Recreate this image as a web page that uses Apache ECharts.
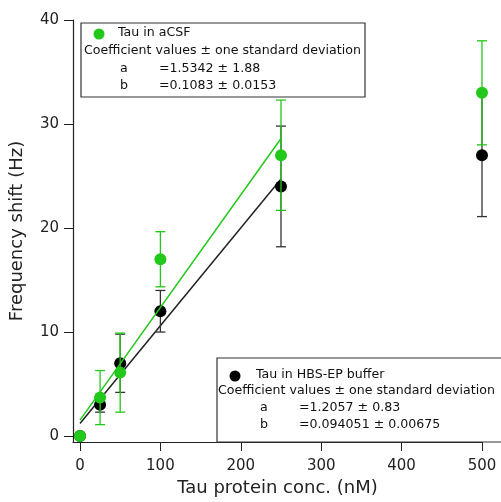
<!DOCTYPE html>
<html><head><meta charset="utf-8">
<script src="https://cdn.jsdelivr.net/npm/echarts@6/dist/echarts.min.js"></script>
<style>html,body{margin:0;padding:0;background:#fff}#c{width:501px;height:502px}</style>
</head><body><div id="c"></div>
<script>
// Data
const concX = [0, 25, 50, 100, 250, 500];
const acsfY = [0, 3.7, 6.1, 17.0, 27.0, 33.0];
const acsfErr = [0, 2.6, 3.8, 2.65, 5.3, 5.0];
const hbsY = [0, 3.0, 7.0, 12.0, 24.0, 27.0];
const hbsErr = [0, 0.7, 2.8, 2.0, 5.8, 5.9];
const fitX = [0, 250];
const acsfFit = [1.53, 28.61];
const hbsFit = [1.21, 24.72];
const xTicks = [0, 100, 200, 300, 400, 500];
const yTicks = [0, 10, 20, 30, 40];

const GREEN = '#22c81a';
const BLACK = '#000000';
const FONT = 'DejaVu Sans';

function pts(xs, ys) { return xs.map((x, i) => [x, ys[i]]); }
function errs(xs, ys, es) { return xs.map((x, i) => [x, ys[i] - es[i], ys[i] + es[i]]).filter((d, i) => es[i] > 0); }

function errRender(color) {
  return function (params, api) {
    const x = api.value(0), lo = api.value(1), hi = api.value(2);
    const p1 = api.coord([x, lo]), p2 = api.coord([x, hi]);
    const hw = 5;
    const st = { stroke: color, lineWidth: 1.3 };
    return { type: 'group', children: [
      { type: 'line', shape: { x1: p1[0], y1: p1[1], x2: p2[0], y2: p2[1] }, style: st },
      { type: 'line', shape: { x1: p1[0] - hw, y1: p1[1], x2: p1[0] + hw, y2: p1[1] }, style: st },
      { type: 'line', shape: { x1: p2[0] - hw, y1: p2[1], x2: p2[0] + hw, y2: p2[1] }, style: st }
    ]};
  };
}

const chart = echarts.init(document.getElementById('c'), null, { renderer: 'canvas' });
const txt = (x, y, s) => ({ type: 'text', left: x, top: y, style: { text: s, font: '12.6px "' + FONT + '"', fill: '#111' }, z: 101 });

chart.setOption({
  animation: false,
  grid: { left: 73, right: 19, top: 20, bottom: 55 },
  xAxis: {
    type: 'value', min: -8.7, max: 500,
    axisLine: { onZero: false, lineStyle: { color: '#222', width: 1.2 } },
    axisTick: { show: true, length: 9, inside: false, customValues: xTicks, lineStyle: { color: '#222' } },
    axisLabel: { customValues: xTicks, color: '#222', fontFamily: FONT, fontSize: 15, margin: 17 },
    splitLine: { show: false },
    name: 'Tau protein conc. (nM)', nameLocation: 'middle', nameGap: 37,
    nameTextStyle: { fontFamily: FONT, fontSize: 18, color: '#222' }
  },
  yAxis: {
    type: 'value', min: -0.57, max: 40,
    axisLine: { show: true, onZero: false, lineStyle: { color: '#222', width: 1.2 } },
    axisTick: { show: true, length: 9, inside: false, customValues: yTicks, lineStyle: { color: '#222' } },
    axisLabel: { customValues: yTicks, color: '#222', fontFamily: FONT, fontSize: 15, margin: 14 },
    splitLine: { show: false },
    name: 'Frequency shift (Hz)', nameLocation: 'middle', nameGap: 47, nameRotate: 90,
    nameTextStyle: { fontFamily: FONT, fontSize: 18, color: '#222' }
  },
  series: [
    { type: 'line', data: pts(fitX, hbsFit), symbol: 'none', lineStyle: { color: '#222', width: 1.5 }, z: 2 },
    { type: 'custom', data: errs(concX, hbsY, hbsErr), renderItem: errRender('#333'), z: 3 },
    { type: 'scatter', data: pts(concX, hbsY), symbolSize: 12, itemStyle: { color: BLACK, opacity: 1 }, clip: false, z: 4 },
    { type: 'line', data: pts(fitX, acsfFit), symbol: 'none', lineStyle: { color: GREEN, width: 1.5 }, z: 5 },
    { type: 'custom', data: errs(concX, acsfY, acsfErr), renderItem: errRender(GREEN), z: 6 },
    { type: 'scatter', data: pts(concX, acsfY), symbolSize: 12, itemStyle: { color: GREEN, opacity: 1 }, clip: false, z: 7 }
  ],
  graphic: [
    { type: 'rect', shape: { x: 81, y: 23, width: 284, height: 74 }, style: { fill: '#fff', stroke: '#333', lineWidth: 1.2 }, z: 100 },
    { type: 'circle', shape: { cx: 99, cy: 34, r: 5.5 }, style: { fill: GREEN }, z: 101 },
    txt(118, 26, 'Tau in aCSF'),
    txt(84, 44, 'Coefficient values ± one standard deviation'),
    txt(120, 62, 'a'),
    txt(159, 62, '=1.5342 ± 1.88'),
    txt(120, 79, 'b'),
    txt(159, 79, '=0.1083 ± 0.0153'),
    { type: 'rect', shape: { x: 217, y: 358, width: 300, height: 84 }, style: { fill: '#fff', stroke: '#333', lineWidth: 1.2 }, z: 100 },
    { type: 'circle', shape: { cx: 235, cy: 376, r: 5.5 }, style: { fill: BLACK }, z: 101 },
    txt(256, 368, 'Tau in HBS-EP buffer'),
    txt(218, 384, 'Coefficient values ± one standard deviation'),
    txt(260, 401, 'a'),
    txt(299, 401, '=1.2057 ± 0.83'),
    txt(260, 418, 'b'),
    txt(299, 418, '=0.094051 ± 0.00675')
  ]
});
</script></body></html>
